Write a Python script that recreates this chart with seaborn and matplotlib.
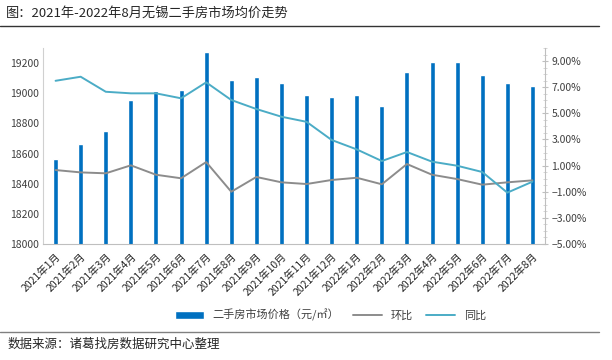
import matplotlib
matplotlib.use("Agg")
import matplotlib.pyplot as plt
import matplotlib.ticker as mticker
import seaborn as sns
import pandas as pd
import numpy as np

months = ["2021年1月", "2021年2月", "2021年3月", "2021年4月", "2021年5月", "2021年6月",
          "2021年7月", "2021年8月", "2021年9月", "2021年10月", "2021年11月", "2021年12月",
          "2022年1月", "2022年2月", "2022年3月", "2022年4月", "2022年5月", "2022年6月",
          "2022年7月", "2022年8月"]
price = [18565, 18665, 18750, 18952, 19014, 19020, 19275, 19085, 19110, 19065,
         18988, 18976, 18988, 18915, 19142, 19206, 19206, 19120, 19067, 19047]
mom = [0.66, 0.48, 0.41, 1.02, 0.30, 0.03, 1.27, -1.00, 0.13, -0.28,
       -0.41, -0.10, 0.07, -0.43, 1.12, 0.30, -0.03, -0.46, -0.28, -0.13]
yoy = [7.49, 7.80, 6.65, 6.53, 6.53, 6.15, 7.37, 6.02, 5.33, 4.74,
       4.35, 2.96, 2.24, 1.35, 2.04, 1.30, 0.99, 0.51, -1.07, -0.23]

bar_color = "#0070C0"
mom_color = "#8C8C8C"
yoy_color = "#4BACC6"

sns.set_style("white")
plt.rcParams['font.family'] = ['Noto Sans CJK SC', 'DejaVu Sans']

df = pd.DataFrame({"month": months, "price": price, "mom": mom, "yoy": yoy})
df["pos"] = np.arange(len(df))

fig = plt.figure(figsize=(6.12, 3.6), dpi=100)
ax = fig.add_axes([0.0703, 0.3222, 0.8202, 0.5445])

sns.barplot(data=df, x="month", y="price", color=bar_color, width=0.2,
            saturation=1, ax=ax, label="二手房市场价格（元/㎡）")
ax.set_ylim(18000, 19300)
ax.set_xlim(-0.5, len(df) - 0.5)
ax.set_yticks(np.arange(18000, 19201, 200))

ax2 = ax.twinx()
sns.lineplot(data=df, x="pos", y="mom", color=mom_color, linewidth=1.4,
             ax=ax2, label="环比")
sns.lineplot(data=df, x="pos", y="yoy", color=yoy_color, linewidth=1.4,
             ax=ax2, label="同比")
ax2.set_ylim(-5, 10)
ax2.set_yticks(np.arange(-5, 9.1, 2))
ax2.yaxis.set_minor_locator(mticker.MultipleLocator(0.5))
ax2.yaxis.set_major_formatter(mticker.FuncFormatter(lambda v, p: f"{v:.2f}%".replace("-", "−")))
ax2.set_xlim(-0.5, len(df) - 0.5)

# x axis: labels under bars, small ticks between categories
ax.set_xticks(np.arange(len(df)))
ax.set_xticklabels(months, rotation=45, ha="right", rotation_mode="anchor", fontsize=7.5)
ax.set_xticks(np.arange(-0.5, len(df), 1), minor=True)
ax.tick_params(axis="x", which="major", length=0, pad=5)
ax.tick_params(axis="x", which="minor", length=4, color="#BFBFBF", width=0.8)
ax.tick_params(axis="y", length=0, labelsize=7.5, colors="#404040", pad=3)
ax2.tick_params(axis="y", which="major", length=5, direction="inout",
                color="#BFBFBF", labelsize=7.5, labelcolor="#404040", pad=2)
ax2.tick_params(axis="y", which="minor", length=3, direction="inout", color="#D0D0D0")

for a in (ax, ax2):
    a.set_xlabel("")
    a.set_ylabel("")
    a.spines["top"].set_visible(False)
ax.spines["right"].set_visible(False)
ax2.spines["left"].set_visible(False)
ax2.spines["bottom"].set_visible(False)
ax.spines["left"].set_color("#D0D0D0")
ax.spines["bottom"].set_color("#BFBFBF")
ax2.spines["right"].set_color("#BFBFBF")

h1, l1 = ax.get_legend_handles_labels()
h2, l2 = ax2.get_legend_handles_labels()
if ax2.get_legend():
    ax2.get_legend().remove()
if ax.get_legend():
    ax.get_legend().remove()
fig.legend(h1 + h2, l1 + l2, loc="center", bbox_to_anchor=(0.54, 0.125), ncol=3,
           frameon=False, fontsize=8, handlelength=2.6, columnspacing=1.2,
           handleheight=0.7, labelcolor="#404040")

# title and source with rules
fig.text(0.01, 0.962, "图：2021年-2022年8月无锡二手房市场均价走势", fontsize=9.5,
         va="center", ha="left")
fig.add_artist(plt.Line2D([0.0, 0.978], [0.928, 0.928], color="#333333", linewidth=1.0))
fig.add_artist(plt.Line2D([0.0, 0.978], [0.078, 0.078], color="#808080", linewidth=1.0))
fig.text(0.012, 0.044, "数据来源：诸葛找房数据研究中心整理", fontsize=9,
         va="center", ha="left")

fig.savefig("out.png", dpi=100)
